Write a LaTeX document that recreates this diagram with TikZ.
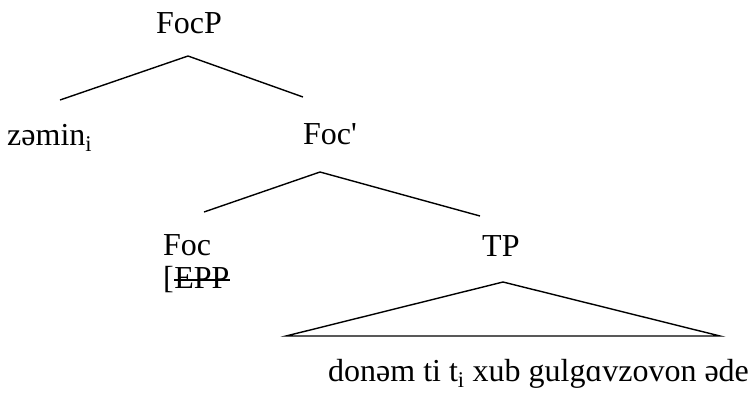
\documentclass[tikz,border=0pt]{standalone}
\usepackage{fontspec}
\setmainfont{Liberation Serif}
\begin{document}
\begin{tikzpicture}[x=1pt,y=-1pt,
  lbl/.style={anchor=base west,inner sep=0pt,font=\fontsize{32}{35}\selectfont},
  edge/.style={line width=1.4pt}]
\useasboundingbox (0,0) rectangle (750,392);
\node[lbl] (focp) at (156,33) {FocP};
\node[lbl] (zemin) at (7,145) {zəmin\textsubscript{i}};
\node[lbl] (focbar) at (303,144) {Foc\textquotesingle};
\node[lbl] (foc) at (163,255) {Foc};
\node[lbl] (brk) at (163,288) {[};
\node[lbl,anchor=base west] (epp) at (brk.base east) {EPP};
\draw[line width=1.2pt] ([yshift=8pt]epp.base west) -- ([yshift=8pt]epp.base east);
\node[lbl] (tp) at (482,256) {TP};
\node[lbl] (words) at (328,381) {donəm ti t\textsubscript{i} xub gulgɑvzovon əde};
\coordinate (a1) at (188,56);
\coordinate (l1) at (60,100);
\coordinate (r1) at (303,97);
\coordinate (a2) at (320,172);
\coordinate (l2) at (204,212);
\coordinate (r2) at (480,216);
\coordinate (a3) at (503,282);
\coordinate (l3) at (286,336);
\coordinate (r3) at (720,336);
\draw[edge] (l1) -- (a1) -- (r1);
\draw[edge] (l2) -- (a2) -- (r2);
\draw[edge] (a3) -- (l3) -- (r3) -- cycle;
\end{tikzpicture}
\end{document}
